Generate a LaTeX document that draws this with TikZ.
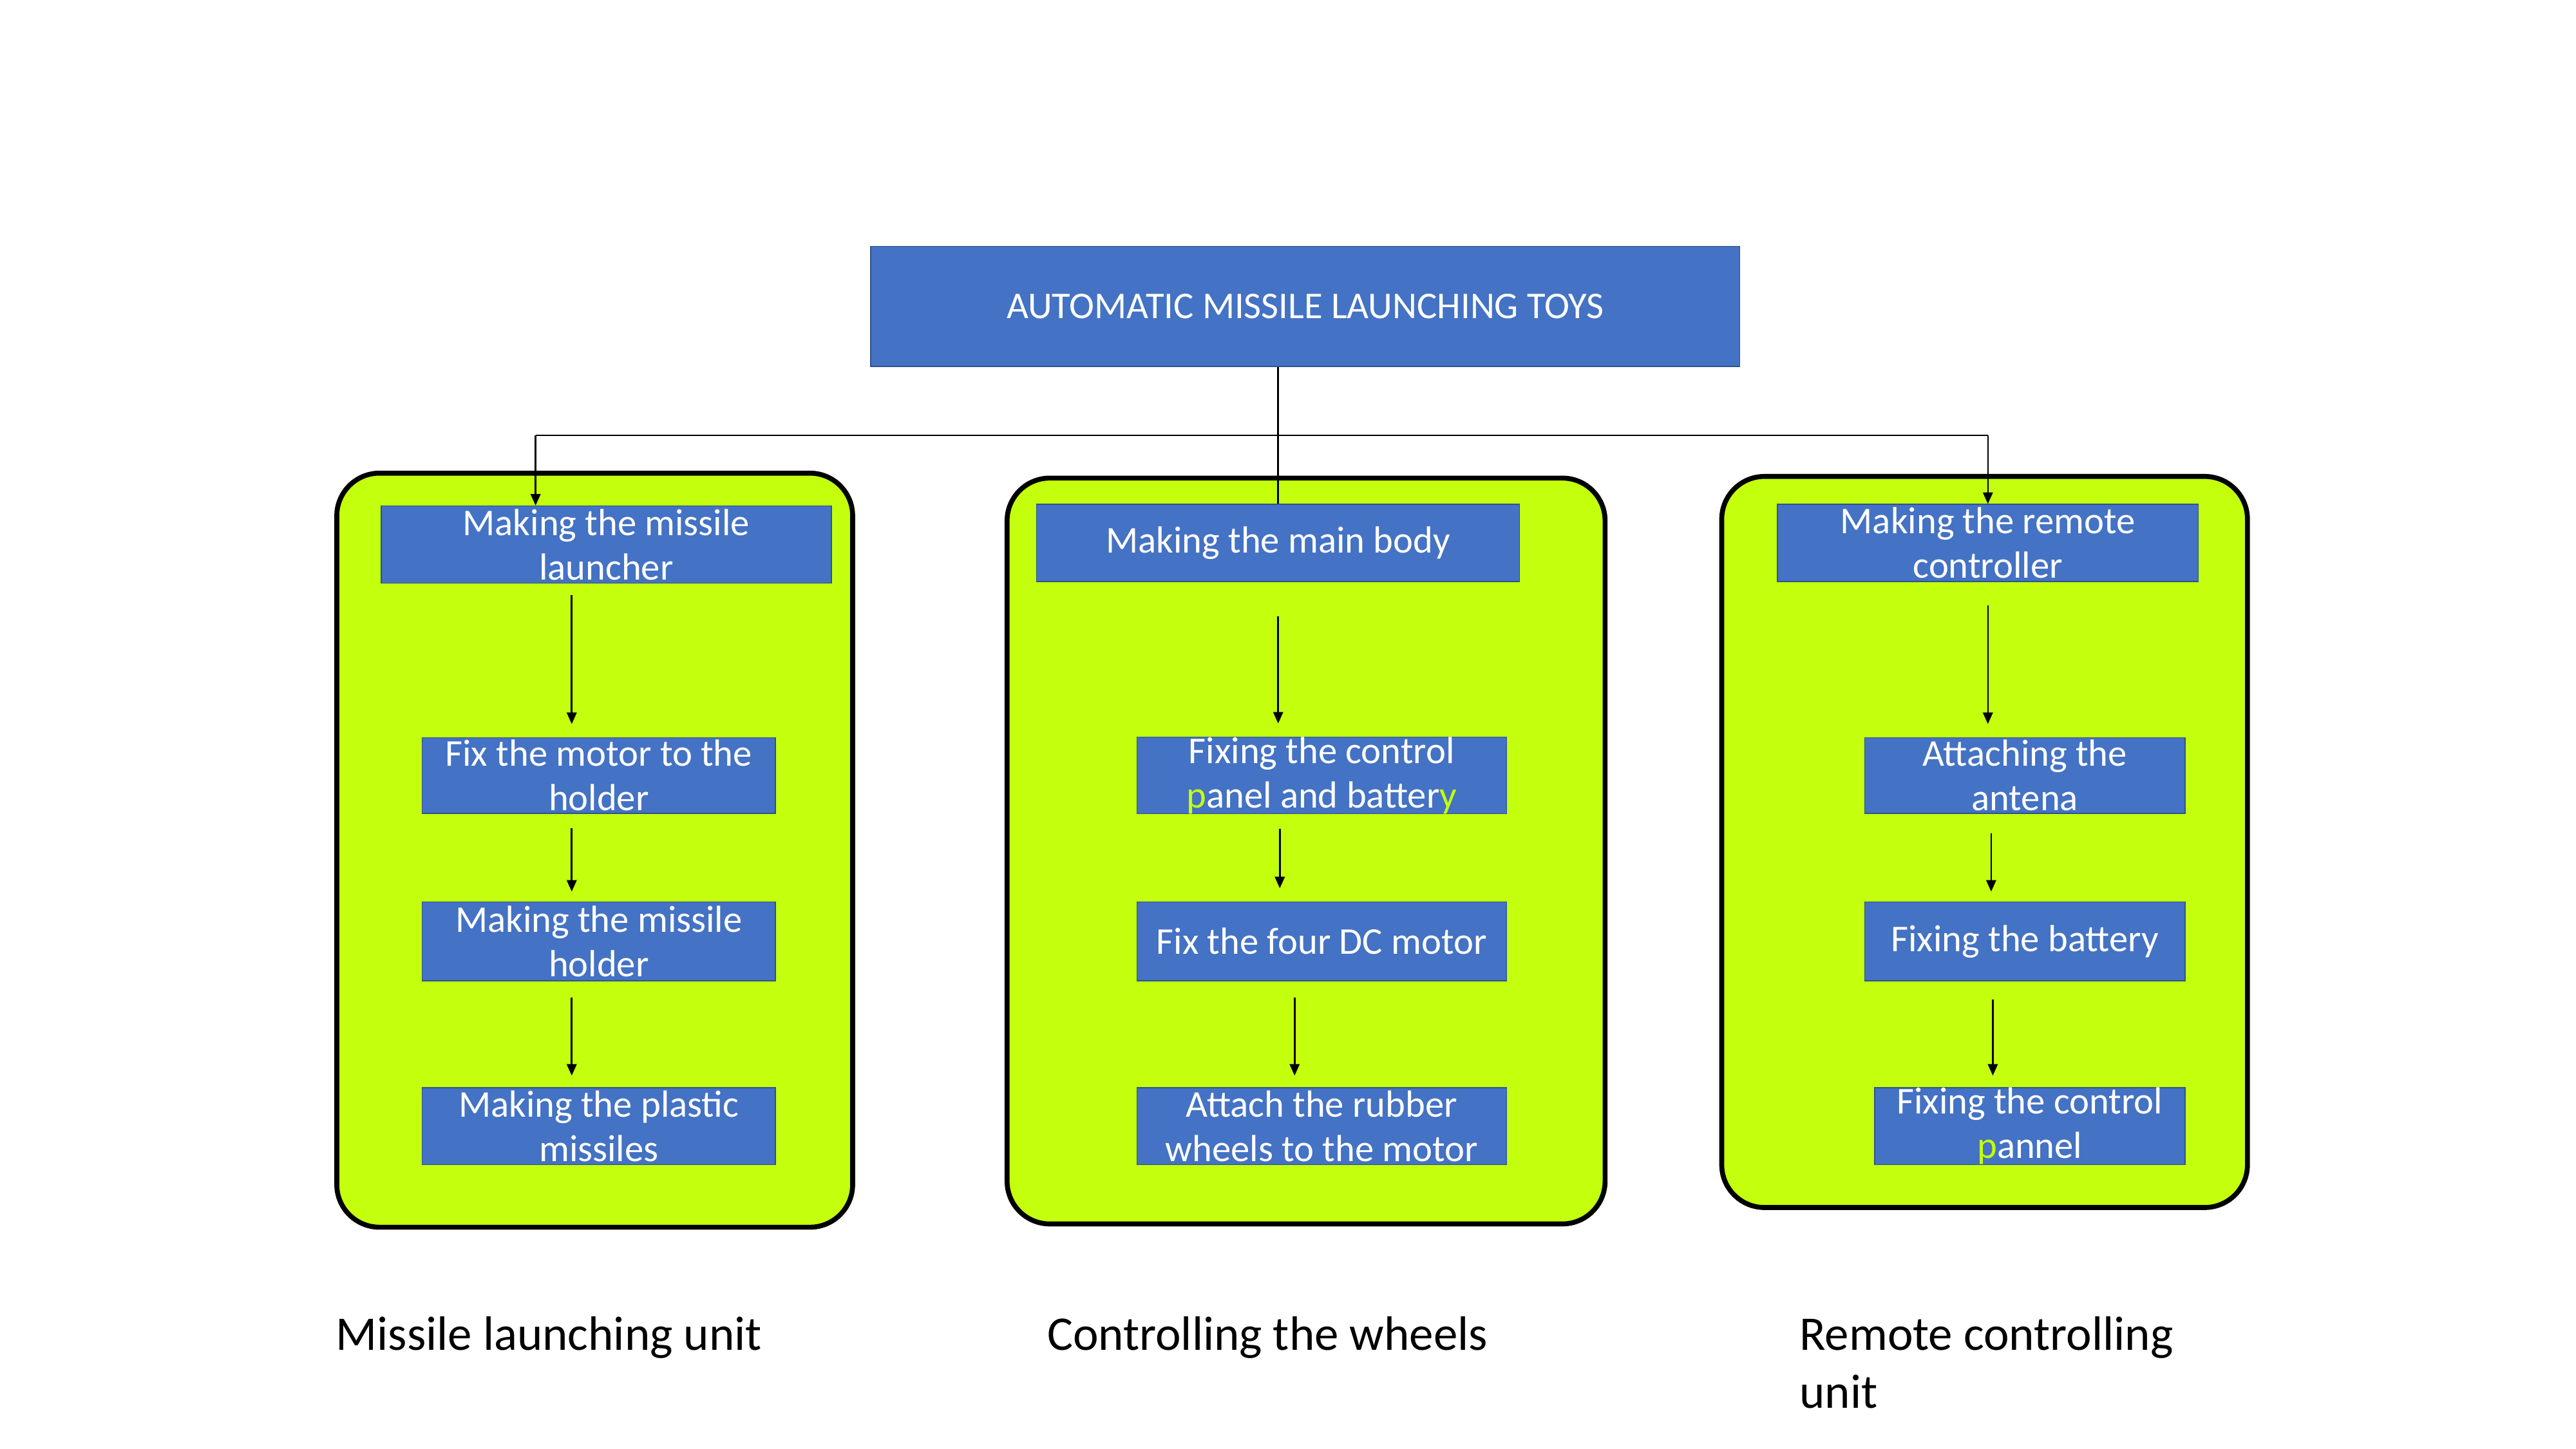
\documentclass[tikz,border=0pt]{standalone}
\usepackage{fontspec}
\setmainfont{Carlito}
\usetikzlibrary{arrows.meta}
\definecolor{boxblue}{HTML}{4472C4}
\definecolor{boxedge}{HTML}{2F528F}
\definecolor{lime}{RGB}{196,255,14}
\begin{document}
\begin{tikzpicture}[x=0.5pt,y=-0.5pt,
  stepbox/.style={rectangle,fill=boxblue,draw=boxedge,line width=0.3pt,inner sep=0pt,
    text=white,align=center,font=\fontsize{11.5}{13.5}\selectfont},
  group/.style={fill=lime,draw=black,line width=1.5pt,rounded corners=13pt},
  arr/.style={-{Triangle[length=3.5pt,width=3pt]},line width=0.5pt},
  link/.style={line width=0.5pt},
  caption/.style={inner sep=0pt,align=left,font=\fontsize{14.7}{17.5}\selectfont}]
\useasboundingbox[fill=white] (0,0) rectangle (1568,882);

% group containers
\draw[group] (205,288) rectangle (519,747);
\draw[group] (613,291) rectangle (977,745);
\draw[group] (1048,290) rectangle (1368,735);

% title
\node[stepbox,minimum width=264.5pt,minimum height=36.5pt,font=\fontsize{11.5}{13.5}\selectfont] (title) at (794.5,186.5) {AUTOMATIC MISSILE LAUNCHING TOYS};

% left column
\node[stepbox,minimum width=137pt,minimum height=23.5pt] (L1) at (369,331.5) {Making the missile\\launcher};
\node[stepbox,minimum width=107.5pt,minimum height=23pt] (L2) at (364.5,472) {Fix the motor to the\\holder};
\node[stepbox,minimum width=107.5pt,minimum height=24pt] (L3) at (364.5,573) {Making the missile\\holder};
\node[stepbox,minimum width=107.5pt,minimum height=23.5pt] (L4) at (364.5,685.5) {Making the plastic\\missiles};

% middle column
\node[stepbox,minimum width=147pt,minimum height=23.5pt] (M1) at (778,330.5) {Making the main body};
\node[stepbox,minimum width=112.5pt,minimum height=23pt] (M2) at (804.5,472) {Fixing the control\\\textcolor{lime}{p}anel and batter\textcolor{lime}{y}};
\node[stepbox,minimum width=112.5pt,minimum height=24pt] (M3) at (804.5,573) {Fix the four DC motor};
\node[stepbox,minimum width=112.5pt,minimum height=23.5pt] (M4) at (804.5,685.5) {Attach the rubber\\wheels to the motor};

% right column
\node[stepbox,minimum width=128pt,minimum height=23.5pt] (R1) at (1210,330.5) {Making the remote\\controller};
\node[stepbox,minimum width=97.5pt,minimum height=23pt] (R2) at (1232.5,472) {Attaching the\\antena};
\node[stepbox,minimum width=97.5pt,minimum height=24pt] (R3) at (1232.5,573) {Fixing the battery};
\node[stepbox,minimum width=94.5pt,minimum height=23.5pt] (R4) at (1235.5,685.5) {Fixing the control\\\textcolor{lime}{p}annel};

% x positions of the inner arrows
\coordinate (xL) at (348,0);
\coordinate (xM2) at (779,0);
\coordinate (xM3) at (788,0);
\coordinate (xR2) at (1212,0);
\coordinate (xR3) at (1213,0);
\coordinate (bl) at (326,265);

% top connectors
\draw[link] (title.south -| M1.north) -- (M1.north);
\draw[link] (bl) -- (bl -| R1.north);
\draw[arr] (bl) -- (bl |- L1.north);
\draw[arr] (bl -| R1.north) -- (R1.north);

% inner arrows
\draw[arr,shorten <=3.5pt,shorten >=4pt] (L1.south -| xL) -- (L2.north -| xL);
\draw[arr,shorten <=4.5pt,shorten >=3pt] (L2.south -| xL) -- (L3.north -| xL);
\draw[arr,shorten <=5pt,shorten >=3.5pt] (L3.south -| xL) -- (L4.north -| xL);

\draw[arr,shorten <=10.5pt,shorten >=4pt] (M1.south) -- (M1.south |- M2.north);
\draw[arr,shorten <=4.5pt,shorten >=4pt] (M2.south -| xM2) -- (M3.north -| xM2);
\draw[arr,shorten <=5pt,shorten >=3.5pt] (M3.south -| xM3) -- (M4.north -| xM3);

\draw[arr,shorten <=7pt,shorten >=4pt] (R1.south) -- (R1.south |- R2.north);
\draw[arr,shorten <=6pt,shorten >=3pt] (R2.south -| xR2) -- (R3.north -| xR2);
\draw[arr,shorten <=5.5pt,shorten >=3.5pt] (R3.south -| xR3) -- (R4.north -| xR3);

% captions
\node[caption,anchor=base west] (c1) at (204,822) {Missile launching unit};
\node[caption,anchor=base west] (c2) at (637,822) {Controlling the wheels};
\node[caption,anchor=base west] (c3) at (1095,857) {Remote controlling\\unit};
\end{tikzpicture}
\end{document}
